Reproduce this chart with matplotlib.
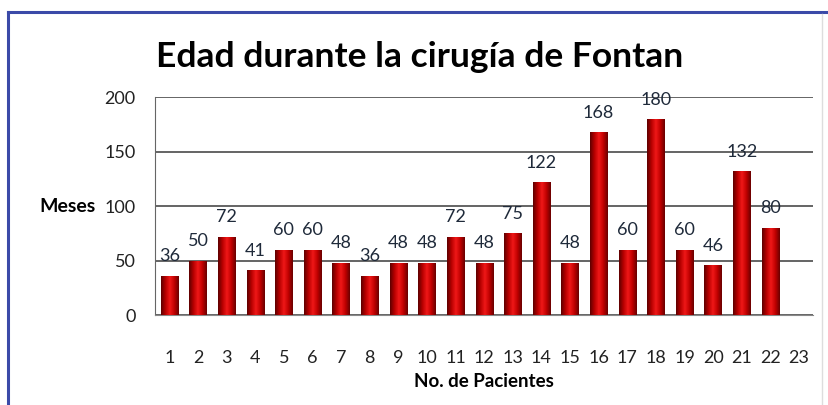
import numpy as np
import matplotlib
matplotlib.use("Agg")
import matplotlib.pyplot as plt
from matplotlib.colors import LinearSegmentedColormap
from matplotlib.lines import Line2D

# Datos
pacientes = list(range(1, 24))
meses = [36, 50, 72, 41, 60, 60, 48, 36, 48, 48, 72, 48, 75, 122, 48,
         168, 60, 180, 60, 46, 132, 80]
yticks = [0, 50, 100, 150, 200]

plt.rcParams['font.family'] = ['Lato', 'DejaVu Sans']

fig = plt.figure(figsize=(8.29, 4.05), dpi=100)
ax = fig.add_axes([0.187, 0.222, 0.794, 0.538])

x = np.arange(1, len(meses) + 1)
width = 0.6
bars = ax.bar(x, meses, width=width, color='#b00000', zorder=2)

# gradient fill to imitate the cylinder look
cmap = LinearSegmentedColormap.from_list(
    'rojo', ['#5e0000', '#b80000', '#f01818', '#c00000', '#6a0000'])
grad = np.linspace(0, 1, 64).reshape(1, -1)
for b in bars:
    x0 = b.get_x()
    im = ax.imshow(grad, cmap=cmap, aspect='auto', zorder=3,
                   extent=[x0, x0 + b.get_width(), 0, b.get_height()])
    im.set_clip_path(b)

for xi, v in zip(x, meses):
    ax.annotate(str(v), (xi, v), xytext=(0, 14), textcoords='offset points',
                ha='center', va='center', fontsize=13, color='#1f2a3a', zorder=1)

ax.set_xlim(0.5, 23.5)
ax.set_ylim(0, 200)
ax.set_xticks(pacientes)
ax.set_yticks(yticks)
ax.yaxis.grid(True, color='#4a4a4a', linewidth=1.2, zorder=0)
ax.set_axisbelow(True)
ax.tick_params(axis='both', length=0, labelsize=13, colors='#222222')
ax.tick_params(axis='y', pad=14)
ax.tick_params(axis='x', pad=25)
for s in ['top', 'right']:
    ax.spines[s].set_visible(False)
ax.spines['left'].set_color('#666666')
ax.spines['bottom'].set_color('#888888')

ax.set_xlabel('No. de Pacientes', fontsize=13.5, fontweight='bold', labelpad=5)
fig.text(0.082, 1 - 207 / 405, 'Meses', fontsize=14, fontweight='bold',
         ha='center', va='center')
fig.text(0.506, 1 - 57 / 405, 'Edad durante la cirugía de Fontan',
         fontsize=25.5, fontweight='bold', ha='center', va='center')

# blue frame of the original picture
fig.add_artist(Line2D([8 / 829, 8 / 829], [0, 1 - 12 / 405],
                      transform=fig.transFigure, color='#3b4aa8', lw=2.2))
fig.add_artist(Line2D([8 / 829, 1], [1 - 12 / 405, 1 - 12 / 405],
                      transform=fig.transFigure, color='#3b4aa8', lw=2.2))
fig.add_artist(Line2D([822 / 829, 822 / 829], [0, 1 - 14 / 405],
                      transform=fig.transFigure, color='#dddddd', lw=1))

fig.savefig('out.png', dpi=100)
